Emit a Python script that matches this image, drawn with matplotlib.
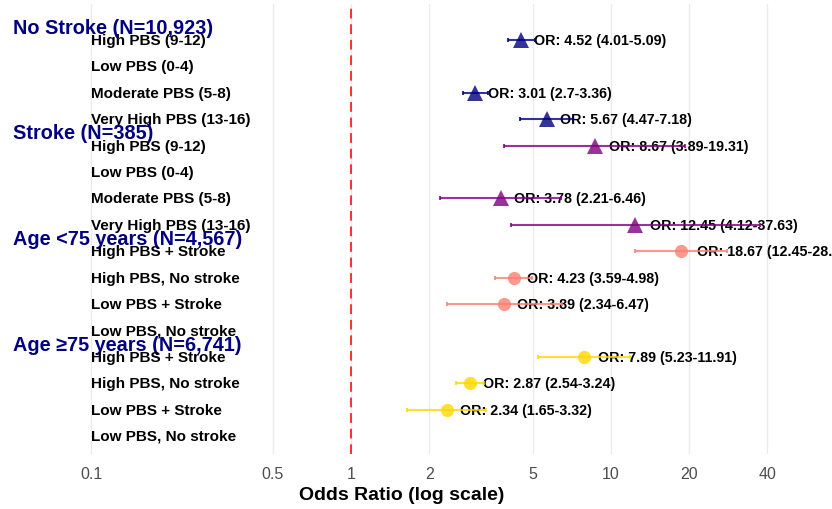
import numpy as np
import matplotlib
matplotlib.use("Agg")
import matplotlib.pyplot as plt
from matplotlib.transforms import offset_copy

plt.rcParams['font.family'] = ['Liberation Sans', 'DejaVu Sans']

groups = ["No Stroke (N=10,923)", "Stroke (N=385)",
          "Age <75 years (N=4,567)", "Age \u226575 years (N=6,741)"]
group_labels = [
    ["High PBS (9-12)", "Low PBS (0-4)", "Moderate PBS (5-8)", "Very High PBS (13-16)"],
    ["High PBS (9-12)", "Low PBS (0-4)", "Moderate PBS (5-8)", "Very High PBS (13-16)"],
    ["High PBS + Stroke", "High PBS, No stroke", "Low PBS + Stroke", "Low PBS, No stroke"],
    ["High PBS + Stroke", "High PBS, No stroke", "Low PBS + Stroke", "Low PBS, No stroke"],
]
odds = [
    [4.52, np.nan, 3.01, 5.67],
    [8.67, np.nan, 3.78, 12.45],
    [18.67, 4.23, 3.89, np.nan],
    [7.89, 2.87, 2.34, np.nan],
]
lower = [
    [4.01, np.nan, 2.7, 4.47],
    [3.89, np.nan, 2.21, 4.12],
    [12.45, 3.59, 2.34, np.nan],
    [5.23, 2.54, 1.65, np.nan],
]
upper = [
    [5.09, np.nan, 3.36, 7.18],
    [19.31, np.nan, 6.46, 37.63],
    [28.01, 4.98, 6.47, np.nan],
    [11.91, 3.24, 3.32, np.nan],
]
group_colors = ["navy", "purple", "salmon", "gold"]
group_markers = ["^", "^", "o", "o"]
x_ticks = [0.1, 0.5, 1, 2, 5, 10, 20, 40]
x_tick_labels = ["0.1", "0.5", "1", "2", "5", "10", "20", "40"]

W, H = 832, 510
fig = plt.figure(figsize=(W / 100, H / 100), dpi=100)
# panel: x px 0..832, y px 5..455
ax = fig.add_axes([0, (H - 455) / H, 1, 450 / H])
ax.set_xscale('log')
ppd = 259.5  # px per decade
x0 = 10 ** (-1 - 91 / ppd)
x1 = 10 ** (1 + (W - 611) / ppd)
ax.set_xlim(x0, x1)
row_px = 26.4
ax.set_ylim(15 + (455 - 437) / row_px, -(41 - 5) / row_px)

ax.set_xticks(x_ticks)
ax.set_xticklabels(x_tick_labels)
ax.xaxis.set_minor_locator(matplotlib.ticker.NullLocator())
ax.set_yticks([])
ax.tick_params(axis='x', length=0, labelsize=11.5, labelcolor='#4D4D4D', pad=9)
for s in ax.spines.values():
    s.set_visible(False)
ax.grid(axis='x', color='#EBEBEB', linewidth=1.0)
ax.set_axisbelow(True)

ax.axvline(1, color='red', linestyle=(0, (5, 3)), linewidth=1.4, alpha=0.8, zorder=1.5)

fig.canvas.draw()
renderer = fig.canvas.get_renderer()

row = 0
for g in range(len(groups)):
    ax.text(0.05, row - 0.48, groups[g], ha='left', va='center', fontsize=14.3,
            fontweight='bold', color='#000080', zorder=5)
    for j in range(4):
        ax.text(0.1, row, group_labels[g][j], ha='left', va='center', fontsize=11,
                fontweight='bold', color='black', zorder=5)
        o = odds[g][j]
        if not np.isnan(o):
            lab = "OR: {:g} ({:g}-{:g})".format(o, lower[g][j], upper[g][j])
            t = ax.text(o, row, lab, ha='left', va='center', fontsize=10.25,
                        fontweight='bold', color='black', zorder=2)
            w = t.get_window_extent(renderer).width
            t.set_transform(offset_copy(ax.transData, fig=fig, x=0.1 * w, y=0, units='dots'))
            ax.errorbar([o], [row], xerr=[[o - lower[g][j]], [upper[g][j] - o]],
                        fmt='none', ecolor=group_colors[g], elinewidth=1.5,
                        capsize=1.6, capthick=1.5, alpha=0.8, zorder=3)
            ms = 12 if group_markers[g] == '^' else 9.5
            ax.plot([o], [row], marker=group_markers[g], markersize=ms,
                    color=group_colors[g], alpha=0.8, linestyle='none', zorder=4,
                    markeredgewidth=0)
        row += 1

ax.set_xlabel("Odds Ratio (log scale)", fontsize=14, fontweight='bold', color='black')
ax.xaxis.set_label_coords(402 / W, -(496 - 455) / 450, transform=ax.transAxes)
ax.xaxis.label.set_va('center')

fig.savefig("out.png", dpi=100)
